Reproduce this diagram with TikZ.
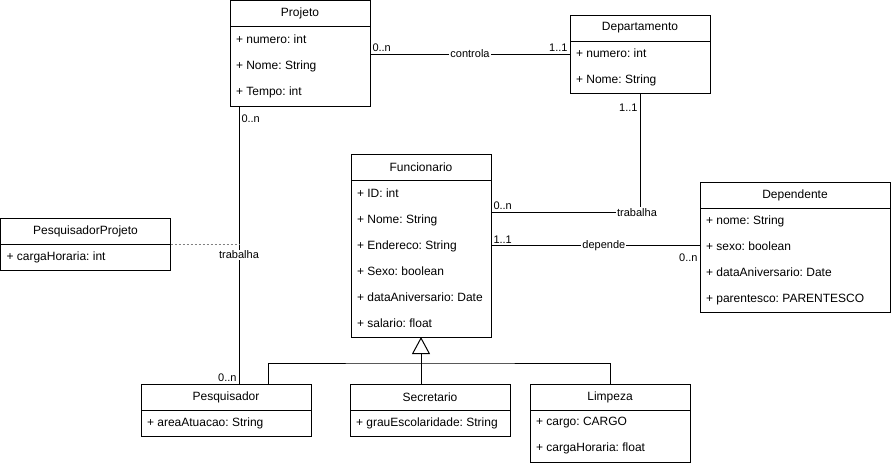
\documentclass[tikz,border=0pt]{standalone}
\usepackage{fontspec}
\setmainfont{Liberation Sans}
\frenchspacing
\usetikzlibrary{positioning, arrows.meta}

\begin{document}
\begin{tikzpicture}[
        x=1pt, y=-1pt,
        line width=1pt,
        classname/.style={
            rectangle, draw=black, anchor=north west, outer sep=0pt,
            minimum width=#1, minimum height=26pt, inner sep=0pt,
            font=\fontsize{12}{14}\selectfont
        },
        attrs/.style={
            rectangle, draw=black, outer sep=0pt, inner xsep=6pt, inner ysep=0pt,
            align=flush left, font=\fontsize{12}{26}\selectfont\frenchspacing
        },
        mult/.style={font=\fontsize{11}{13}\selectfont, inner sep=2pt},
        elabel/.style={font=\fontsize{11}{13}\selectfont, fill=white, inner sep=1pt},
        assocclass/.style={gray, line width=0.8pt, dash pattern=on 2pt off 2pt},
        inherit/.style={-{Triangle[open, length=17pt, width=18pt]}}
    ]
    \useasboundingbox (0,0) rectangle (891,466);

    % Classes
    \node (projeto) [classname=140pt] at (230,0) {Projeto};
    \node (projetoAttr) [attrs, below=0pt of projeto, text width=128pt, minimum height=80pt] {
        + numero: int\\+ Nome: String\\+ Tempo: int
    };

    \node (depto) [classname=140pt] at (570,15) {Departamento};
    \node (deptoAttr) [attrs, below=0pt of depto, text width=128pt, minimum height=52pt] {
        + numero: int\\+ Nome: String
    };

    \node (func) [classname=140pt] at (351,154) {Funcionario};
    \node (funcAttr) [attrs, below=0pt of func, text width=128pt, minimum height=157pt] {
        + ID: int\\+ Nome: String\\+ Endereco: String\\+ Sexo: boolean\\
        + dataAniversario: Date\\+ salario: float
    };

    \node (dependente) [classname=190pt] at (700,182) {Dependente};
    \node (dependenteAttr) [attrs, below=0pt of dependente, text width=178pt, minimum height=104pt] {
        + nome: String\\+ sexo: boolean\\+ dataAniversario: Date\\+ parentesco: PARENTESCO
    };

    \node (pesqProjeto) [classname=170pt] at (0.5,218) {PesquisadorProjeto};
    \node (pesqProjetoAttr) [attrs, below=0pt of pesqProjeto, text width=158pt, minimum height=26pt] {
        + cargaHoraria: int
    };

    \node (pesquisador) [classname=170pt] at (141,384) {Pesquisador};
    \node (pesquisadorAttr) [attrs, below=0pt of pesquisador, text width=158pt, minimum height=26pt] {
        + areaAtuacao: String
    };

    \node (secretario) [classname=160pt] at (350,384) {Secretario};
    \node (secretarioAttr) [attrs, below=0pt of secretario, text width=148pt, minimum height=26pt] {
        + grauEscolaridade: String
    };

    \node (limpeza) [classname=160pt] at (530,384) {Limpeza};
    \node (limpezaAttr) [attrs, below=0pt of limpeza, text width=148pt, minimum height=52pt] {
        + cargo: CARGO\\+ cargaHoraria: float
    };

    % Associations
    \draw ([yshift=12pt]projetoAttr.east) -- ([yshift=12pt]projetoAttr.east -| deptoAttr.west)
        node[pos=0.5, elabel] {controla}
        node[pos=0, mult, above right] {0..n}
        node[pos=1, mult, above left] {1..1};

    \draw ([xshift=9pt]projetoAttr.south west) -- ([xshift=9pt]projetoAttr.south west |- pesquisador.north)
        coordinate[pos=0.5] (ppJoin)
        node[pos=0.535, elabel] {trabalha}
        node[pos=0, mult, below right, yshift=-6pt] {0..n}
        node[pos=1, mult, above left] {0..n};
    \draw[assocclass] (pesqProjeto.south east) -- (pesqProjeto.south east -| ppJoin);

    \draw (deptoAttr.south) |- ([yshift=46pt]funcAttr.east)
        node[pos=0.5, elabel, xshift=-3pt] {trabalha}
        node[pos=0, mult, below left, yshift=-8pt] {1..1}
        node[pos=1, mult, above right] {0..n};

    \draw ([yshift=13pt]funcAttr.east) -- ([yshift=13pt]funcAttr.east -| dependente.west)
        node[pos=0.54, elabel] {depende}
        node[pos=0, mult, above right] {1..1}
        node[pos=1, mult, below left, yshift=-6pt] {0..n};

    % Generalization
    \coordinate (genJoin) at ([yshift=-26pt]funcAttr.south);
    \draw[inherit] (genJoin |- secretario.north) -- (funcAttr.south);
    \draw ([xshift=42pt]pesquisador.north) |- (genJoin) -| (limpeza.north);

\end{tikzpicture}
\end{document}
